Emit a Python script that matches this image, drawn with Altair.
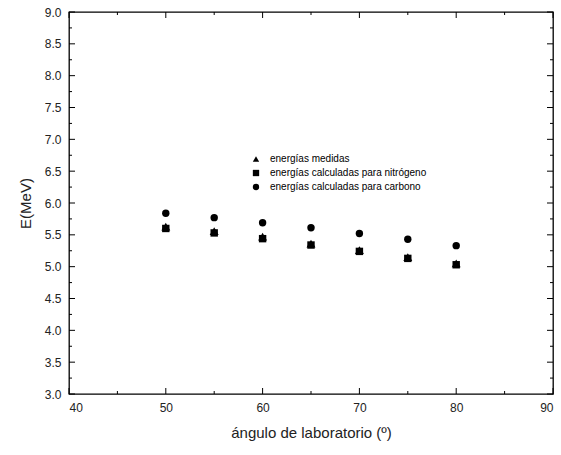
import altair as alt
import pandas as pd

angles = [50, 55, 60, 65, 70, 75, 80]
e_medidas = [5.63, 5.56, 5.47, 5.36, 5.26, 5.15, 5.05]
e_nitrogeno = [5.60, 5.53, 5.44, 5.34, 5.24, 5.13, 5.03]
e_carbono = [5.84, 5.77, 5.69, 5.61, 5.52, 5.43, 5.33]

series_names = [
    "energías medidas",
    "energías calculadas para nitrógeno",
    "energías calculadas para carbono",
]
shapes = ["triangle-up", "square", "circle"]

x_major = [40, 50, 60, 70, 80, 90]
x_minor = [45, 55, 65, 75, 85]
y_major = [3.0, 3.5, 4.0, 4.5, 5.0, 5.5, 6.0, 6.5, 7.0, 7.5, 8.0, 8.5, 9.0]
y_minor = [3.25, 3.75, 4.25, 4.75, 5.25, 5.75, 6.25, 6.75, 7.25, 7.75, 8.25, 8.75]

rows = []
for name, vals in zip(series_names, [e_medidas, e_nitrogeno, e_carbono]):
    for a, v in zip(angles, vals):
        rows.append({"angulo": a, "E": v, "serie": name})
df = pd.DataFrame(rows)

W, H = 484, 382
FONT = "Liberation Sans"
MAJ, MIN = 6, 3

xscale = alt.Scale(domain=[40, 90], nice=False, zero=False)
yscale = alt.Scale(domain=[3, 9], nice=False, zero=False)

shape_enc = alt.Shape(
    "serie:N",
    scale=alt.Scale(domain=series_names, range=shapes),
    legend=alt.Legend(
        title=None,
        orient="none",
        legendX=182,
        legendY=142,
        labelFont=FONT,
        labelFontSize=10,
        labelColor="black",
        symbolSize=40,
        symbolFillColor="black",
        symbolStrokeColor="black",
        symbolStrokeWidth=0,
        labelOffset=9,
        rowPadding=4,
    ),
)

axis_x_main = alt.Axis(
    orient="bottom", values=x_major, ticks=False, domain=False,
    labelFont=FONT, labelFontSize=12, labelColor="#222",
    labelPadding=8, title="ángulo de laboratorio (º)", titleFont=FONT,
    titleFontSize=15, titleFontWeight="normal", titleColor="#222", titlePadding=12,
    grid=False, format="d",
)
axis_y_main = alt.Axis(
    orient="left", values=y_major, ticks=False, domain=False,
    labelFont=FONT, labelFontSize=12, labelColor="#222",
    labelPadding=8, title="E(MeV)", titleFont=FONT, titleFontSize=15,
    titleFontWeight="normal", titleColor="#222", titlePadding=11, grid=False,
    format=".1f",
)


def x_ticks(values, length):
    src = alt.Chart(pd.DataFrame({"v": values}))
    xenc = alt.X("v:Q", scale=xscale, axis=None)
    bottom = src.mark_rule(color="black", strokeWidth=1).encode(
        x=xenc, y=alt.value(H), y2=alt.value(H - length)
    )
    top = src.mark_rule(color="black", strokeWidth=1).encode(
        x=xenc, y=alt.value(0), y2=alt.value(length)
    )
    return [bottom, top]


def y_ticks(values, length):
    src = alt.Chart(pd.DataFrame({"v": values}))
    yenc = alt.Y("v:Q", scale=yscale, axis=None)
    left = src.mark_rule(color="black", strokeWidth=1).encode(
        y=yenc, x=alt.value(0), x2=alt.value(length)
    )
    right = src.mark_rule(color="black", strokeWidth=1).encode(
        y=yenc, x=alt.value(W), x2=alt.value(W - length)
    )
    return [left, right]


tick_layers = (
    x_ticks(x_major, MAJ) + x_ticks(x_minor, MIN)
    + y_ticks(y_major, MAJ) + y_ticks(y_minor, MIN)
)

base = alt.Chart(df)
squares = base.transform_filter(
    alt.datum.serie == series_names[1]
).mark_point(filled=True, color="black", opacity=1, size=55).encode(
    x=alt.X("angulo:Q", scale=xscale, axis=None),
    y=alt.Y("E:Q", scale=yscale, axis=None),
    shape=shape_enc,
)
triangles = base.transform_filter(
    alt.datum.serie == series_names[0]
).mark_point(filled=True, color="black", opacity=1, size=80).encode(
    x=alt.X("angulo:Q", scale=xscale, axis=None),
    y=alt.Y("E:Q", scale=yscale, axis=None),
    shape=shape_enc,
)
circles = base.transform_filter(
    alt.datum.serie == series_names[2]
).mark_point(filled=True, color="black", opacity=1, size=55).encode(
    x=alt.X("angulo:Q", scale=xscale, axis=axis_x_main),
    y=alt.Y("E:Q", scale=yscale, axis=axis_y_main),
    shape=shape_enc,
)

chart = (
    alt.layer(squares, triangles, circles, *tick_layers)
    .resolve_axis(x="independent", y="independent")
    .properties(
        width=W,
        height=H,
        autosize=alt.AutoSizeParams(type="none"),
        padding={"left": 69, "top": 12, "right": 8, "bottom": 61},
        background="white",
    )
    .configure_view(stroke="black", strokeWidth=1.3)
)

chart.save("out.html", embed_options={"renderer": "svg", "actions": False})
